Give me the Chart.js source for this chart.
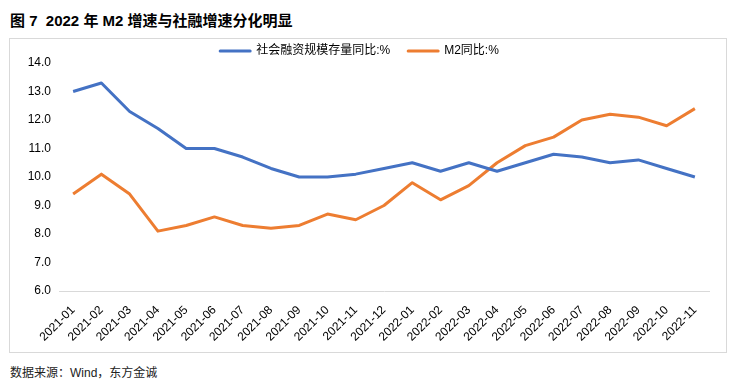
<!DOCTYPE html>
<html>
<head>
<meta charset="utf-8">
<script src="https://cdn.jsdelivr.net/npm/chart.js@4/dist/chart.umd.min.js"></script>
<style>
  body { margin: 0; background: #fff; width: 750px; height: 387px; position: relative; overflow: hidden; }
  .title { position: absolute; left: 10px; top: 9px; font: bold 15px 'Liberation Sans', 'Noto Sans CJK SC', sans-serif; color: #000; }
  .box { position: absolute; left: 9px; top: 38px; width: 716px; height: 313px; border: 1px solid #d9d9d9; }
  .source { position: absolute; left: 10px; top: 363px; font: 12px 'Liberation Sans', 'Noto Sans CJK SC', sans-serif; color: #222; }
</style>
</head>
<body>
<div class="title">图 7&nbsp;&nbsp;2022 年 M2 增速与社融增速分化明显</div>
<div class="box"><canvas class="js-chart" width="716" height="313"></canvas></div>
<div class="source">数据来源：Wind，东方金诚</div>
<script>
const context = document.querySelector('.js-chart').getContext('2d');
const FONT = "'Liberation Sans', 'Noto Sans CJK SC', sans-serif";

const months = [
  '2021-01', '2021-02', '2021-03', '2021-04', '2021-05', '2021-06',
  '2021-07', '2021-08', '2021-09', '2021-10', '2021-11', '2021-12',
  '2022-01', '2022-02', '2022-03', '2022-04', '2022-05', '2022-06',
  '2022-07', '2022-08', '2022-09', '2022-10', '2022-11',
];
const tsfGrowth = [
  13.0, 13.3, 12.3, 11.7, 11.0, 11.0, 10.7, 10.3, 10.0, 10.0, 10.1, 10.3,
  10.5, 10.2, 10.5, 10.2, 10.5, 10.8, 10.7, 10.5, 10.6, 10.3, 10.0,
];
const m2Growth = [
  9.4, 10.1, 9.4, 8.1, 8.3, 8.6, 8.3, 8.2, 8.3, 8.7, 8.5, 9.0,
  9.8, 9.2, 9.7, 10.5, 11.1, 11.4, 12.0, 12.2, 12.1, 11.8, 12.4,
];

drawChart();

function drawChart() {
  new Chart(context, {
    type: 'line',
    data: {
      labels: months,
      datasets: [
        {
          label: '社会融资规模存量同比:%',
          data: tsfGrowth,
          borderColor: '#4472C4',
          backgroundColor: '#4472C4',
          borderWidth: 3,
          borderJoinStyle: 'round',
          pointRadius: 0,
          tension: 0,
        },
        {
          label: 'M2同比:%',
          data: m2Growth,
          borderColor: '#ED7D31',
          backgroundColor: '#ED7D31',
          borderWidth: 3,
          borderJoinStyle: 'round',
          pointRadius: 0,
          tension: 0,
        },
      ],
    },
    options: {
      responsive: false,
      animation: false,
      layout: { padding: { top: -12, right: 17, left: 0, bottom: 0 } },
      plugins: {
        tooltip: { enabled: false },
        legend: {
          position: 'top',
          maxHeight: 36,
          labels: {
            boxWidth: 30,
            boxHeight: 0,
            padding: 18,
            color: '#000',
            font: { family: FONT, size: 12 },
          },
        },
      },
      scales: {
        x: {
          offset: true,
          grid: { display: false },
          border: { display: true, color: '#d9d9d9', width: 1 },
          ticks: {
            color: '#000',
            font: { family: FONT, size: 12 },
            minRotation: 45,
            maxRotation: 45,
            autoSkip: false,
            padding: 4,
          },
          afterFit(scale) {
            scale.height = 61;
          },
        },
        y: {
          min: 6,
          max: 14,
          grid: { display: false, drawTicks: false },
          border: { display: false },
          ticks: {
            stepSize: 1,
            color: '#000',
            padding: 8,
            font: { family: FONT, size: 12 },
            callback(value) {
              return Number(value).toFixed(1);
            },
          },
          afterFit(scale) {
            scale.width = 49;
          },
        },
      },
    },
  });
}
</script>
</body>
</html>
